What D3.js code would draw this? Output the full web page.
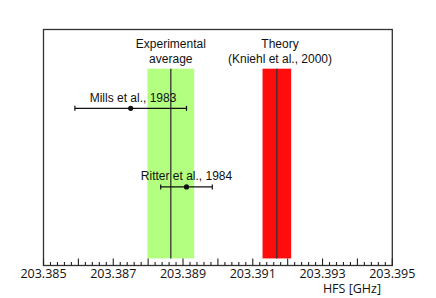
<!DOCTYPE html>
<html><head><meta charset="utf-8">
<script src="https://cdn.jsdelivr.net/npm/d3@7"></script>
<style>body{margin:0;background:#fff}svg{display:block}</style>
</head><body><svg id="c" width="436" height="298"></svg>
<script>
// Data
const measurements = ["Mills et al., 1983", "Ritter et al., 1984"];
const measValues = [203.3875, 203.3891];
const measErrors = [0.0016, 0.00074];
const measRows = [0.666, 0.333];
const bandNames = [["Experimental", "average"], ["Theory", "(Kniehl et al., 2000)"]];
const bandValues = [203.38865, 203.39169];
const bandErrors = [0.00067, 0.00041];
const bandColors = ["#b3ff80", "#ff0d0d"];
const tickLabels = ["203.385", "203.387", "203.389", "203.391", "203.393", "203.395"];
const xTitle = "HFS [GHz]";

const svg = d3.select("#c");
const L = 43.5, R = 392.3, T = 29.5, B = 265.5;
const x = d3.scaleLinear().domain([203.385, 203.395]).range([L, R]);
const y = d3.scaleLinear().domain([0, 1]).range([B, T]);
const font = "'Liberation Sans', Arial, sans-serif";
const labelShift = [2.3, 0];

// bands
bandValues.forEach((v, i) => {
  svg.append("rect")
    .attr("x", x(v - bandErrors[i])).attr("width", x(v + bandErrors[i]) - x(v - bandErrors[i]))
    .attr("y", y(0.834)).attr("height", y(0.03) - y(0.834))
    .attr("fill", bandColors[i]);
  svg.append("line")
    .attr("x1", x(v)).attr("x2", x(v))
    .attr("y1", y(0.834)).attr("y2", y(0.03))
    .attr("stroke", "#333").attr("stroke-width", 1.3);
});

// band labels
const labelCx = [x(bandValues[0]), 280];
bandNames.forEach((lines, i) => {
  lines.forEach((t, j) => {
    svg.append("text").attr("x", labelCx[i]).attr("y", 48 + j * 14.7)
      .attr("text-anchor", "middle").attr("font-family", font).attr("font-size", 12)
      .attr("fill", "#111").text(t);
  });
});

// measurements
measValues.forEach((v, i) => {
  const yy = y(measRows[i]);
  const g = svg.append("g").attr("stroke", "#111").attr("stroke-width", 1.2);
  g.append("line").attr("x1", x(v - measErrors[i])).attr("x2", x(v + measErrors[i])).attr("y1", yy).attr("y2", yy);
  [v - measErrors[i], v + measErrors[i]].forEach(e => {
    g.append("line").attr("x1", x(e)).attr("x2", x(e)).attr("y1", yy - 2.5).attr("y2", yy + 2.5);
  });
  svg.append("circle").attr("cx", x(v)).attr("cy", yy).attr("r", 2.6).attr("fill", "#111");
  svg.append("text").attr("x", x(v) + labelShift[i]).attr("y", yy - 6.6)
    .attr("text-anchor", "middle").attr("font-family", font).attr("font-size", 12)
    .attr("fill", "#111").text(measurements[i]);
});

// frame
svg.append("rect").attr("x", L).attr("y", T).attr("width", R - L).attr("height", B - T)
  .attr("fill", "none").attr("stroke", "#333").attr("stroke-width", 1.3);

// axis ticks (pointing up)
const minor = d3.range(0, 51).map(k => 203.385 + k * 0.0002);
minor.forEach((v, k) => {
  const major = k % 5 === 0;
  svg.append("line").attr("x1", x(v)).attr("x2", x(v))
    .attr("y1", B).attr("y2", B - (major ? 7 : 3.5))
    .attr("stroke", "#222").attr("stroke-width", 1.1);
});
tickLabels.forEach(t => {
  svg.append("text").attr("x", x(+t)).attr("y", 278)
    .attr("text-anchor", "middle").attr("font-family", "'Open Sans', sans-serif").attr("font-size", 12.5)
    .attr("fill", "#111").text(t);
});
svg.append("text").attr("x", 381).attr("y", 293).attr("text-anchor", "end")
  .attr("font-family", "'Open Sans', sans-serif").attr("font-size", 12.5).attr("fill", "#111").text(xTitle);
</script></body></html>
